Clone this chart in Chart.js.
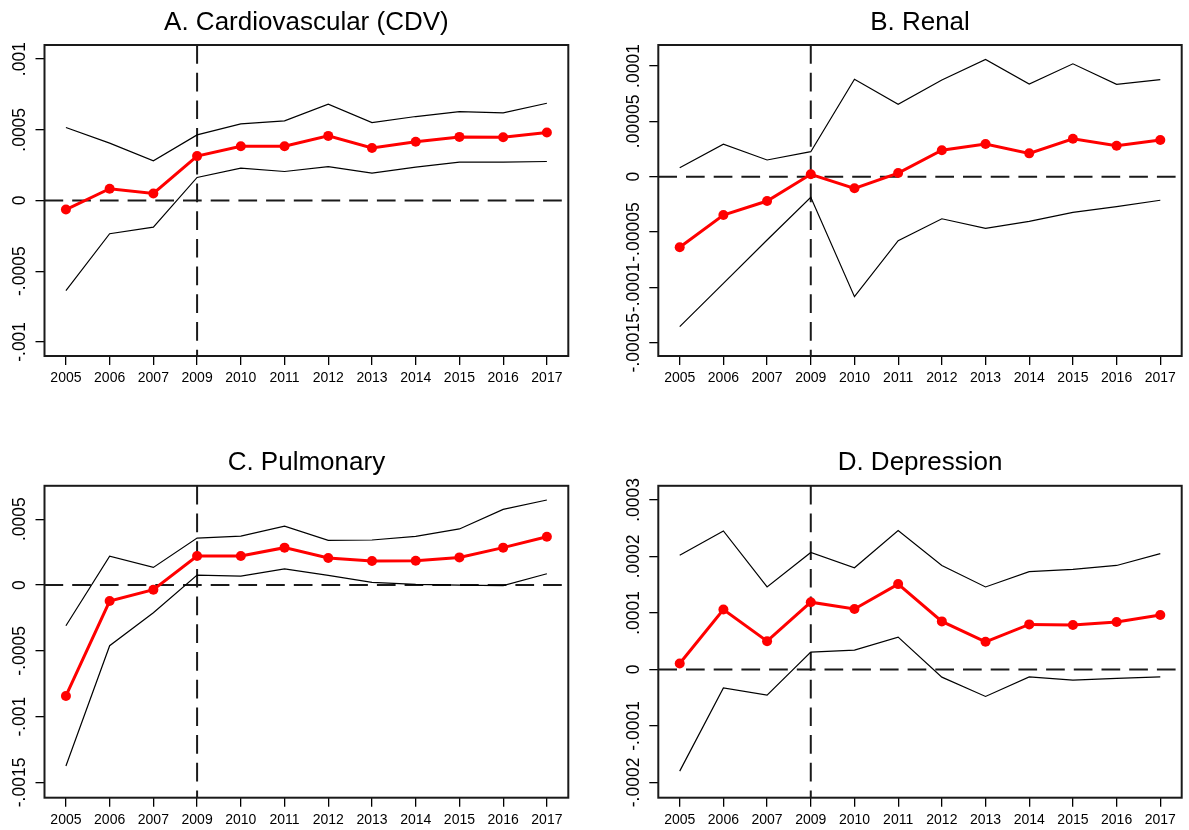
<!DOCTYPE html>
<html>
<head>
<meta charset="utf-8">
<script src="https://cdn.jsdelivr.net/npm/chart.js@4.4.0/dist/chart.umd.min.js"></script>
<style>
html,body{margin:0;padding:0;background:#fff;width:1189px;height:830px;overflow:hidden;}
canvas{position:absolute;}
</style>
</head>
<body>
<canvas id="cA" width="594" height="415" style="left:0px;top:0px"></canvas>
<canvas id="cB" width="595" height="415" style="left:594px;top:0px"></canvas>
<canvas id="cC" width="594" height="415" style="left:0px;top:415px"></canvas>
<canvas id="cD" width="595" height="415" style="left:594px;top:415px"></canvas>
<script>
// ---------- data ----------
const years = ['2005','2006','2007','2009','2010','2011','2012','2013','2014','2015','2016','2017'];
const policyYear = '2009';

const titleA = 'A. Cardiovascular (CDV)';
const estA = [-0.000064, 0.000083, 0.000050, 0.000314, 0.000384, 0.000384, 0.000457, 0.000372, 0.000415, 0.000450, 0.000448, 0.000481];
const hiA  = [0.000516, 0.000406, 0.000281, 0.000464, 0.000542, 0.000563, 0.000681, 0.000551, 0.000594, 0.000629, 0.000620, 0.000688];
const loA  = [-0.000638, -0.000235, -0.000188, 0.000163, 0.000229, 0.000205, 0.000240, 0.000194, 0.000236, 0.000271, 0.000271, 0.000276];
const rangeA = [-0.0011, 0.0011];
const ticksA = [0.001, 0.0005, 0, -0.0005, -0.001];
const tickLabelsA = ['.001', '.0005', '0', '-.0005', '-.001'];

const titleB = 'B. Renal';
const estB = [-0.0000638, -0.0000346, -0.0000220, 0.0000022, -0.0000105, 0.0000033, 0.0000239, 0.0000295, 0.0000211, 0.0000343, 0.0000280, 0.0000332];
const hiB  = [0.0000081, 0.0000293, 0.0000151, 0.0000226, 0.0000880, 0.0000654, 0.0000874, 0.0001060, 0.0000838, 0.0001020, 0.0000835, 0.0000877];
const loB  = [-0.0001355, -0.0000964, -0.0000572, -0.0000186, -0.0001084, -0.0000578, -0.0000380, -0.0000466, -0.0000403, -0.0000322, -0.0000271, -0.0000213];
const rangeB = [-0.000162, 0.000119];
const ticksB = [0.0001, 0.00005, 0, -0.00005, -0.0001, -0.00015];
const tickLabelsB = ['.0001', '.00005', '0', '-.00005', '-.0001', '-.00015'];

const titleC = 'C. Pulmonary';
const estC = [-0.000843, -0.000122, -0.0000355, 0.000220, 0.000220, 0.000284, 0.000205, 0.000182, 0.000185, 0.000210, 0.000284, 0.000367];
const hiC  = [-0.000309, 0.000220, 0.000134, 0.000357, 0.000372, 0.000448, 0.000340, 0.000342, 0.000370, 0.000426, 0.000575, 0.000646];
const loC  = [-0.001375, -0.000461, -0.000210, 0.000076, 0.000068, 0.000122, 0.0000735, 0.0000203, 0.000005, 0.000000, -0.000005, 0.000086];
const rangeC = [-0.001616, 0.000754];
const ticksC = [0.0005, 0, -0.0005, -0.001, -0.0015];
const tickLabelsC = ['.0005', '0', '-.0005', '-.001', '-.0015'];

const titleD = 'D. Depression';
const estD = [0.0000106, 0.000106, 0.0000501, 0.000119, 0.000107, 0.000151, 0.000085, 0.0000489, 0.0000797, 0.0000785, 0.0000838, 0.0000962];
const hiD  = [0.000202, 0.000245, 0.000146, 0.000207, 0.000180, 0.000246, 0.000184, 0.000146, 0.000173, 0.000177, 0.000184, 0.000205];
const loD  = [-0.000180, -0.0000326, -0.0000455, 0.0000307, 0.0000342, 0.0000572, -0.0000136, -0.0000478, -0.0000131, -0.0000190, -0.0000159, -0.0000131];
const rangeD = [-0.000227, 0.000325];
const ticksD = [0.0003, 0.0002, 0.0001, 0, -0.0001, -0.0002];
const tickLabelsD = ['.0003', '.0002', '.0001', '0', '-.0001', '-.0002'];

// ---------- rendering ----------
const FONT = '"Liberation Sans", Arial, Helvetica, sans-serif';
const X_MIN = -0.49, X_MAX = 11.49;

const framePlugin = {
  id: 'frame',
  afterDraw(chart, args, opts) {
    const {ctx, chartArea: a} = chart;
    const ys = chart.scales.y;
    ctx.save();
    ctx.strokeStyle = '#1a1a1a';
    ctx.lineWidth = 2;
    ctx.strokeRect(a.left, a.top, a.right - a.left, a.bottom - a.top);
    ctx.fillStyle = '#000';
    ctx.font = '17.5px ' + FONT;
    ctx.textAlign = 'center';
    ctx.textBaseline = 'alphabetic';
    const bx = a.left - opts.gap;
    ys.ticks.forEach((t, i) => {
      const py = ys.getPixelForValue(t.value);
      ctx.save();
      ctx.translate(bx, py);
      ctx.rotate(-Math.PI / 2);
      ctx.fillText(opts.labels[i], 0, 0);
      ctx.restore();
    });
    ctx.restore();
  }
};

function pts(arr) { return arr.map((v, i) => ({x: i, y: v})); }

function makePanel(id, title, est, hi, lo, range, yTicks, yLabels, g) {
  const vIdx = years.indexOf(policyYear);
  const dash = {borderColor: '#1a1a1a', borderWidth: 2, borderDash: [18.7, 9], pointRadius: 0, fill: false, tension: 0};
  new Chart(document.getElementById(id), {
    type: 'line',
    data: {
      datasets: [
        {data: pts(est), borderColor: '#ff0000', backgroundColor: '#ff0000', borderWidth: 3,
         pointRadius: 5, pointHoverRadius: 5, pointBorderWidth: 0, pointBackgroundColor: '#ff0000', tension: 0, fill: false},
        {data: pts(hi), borderColor: '#000', borderWidth: 1.2, pointRadius: 0, tension: 0, fill: false},
        {data: pts(lo), borderColor: '#000', borderWidth: 1.2, pointRadius: 0, tension: 0, fill: false},
        Object.assign({data: [{x: X_MIN, y: 0}, {x: X_MAX, y: 0}]}, dash),
        Object.assign({data: [{x: vIdx, y: range[1]}, {x: vIdx, y: range[0]}]}, dash)
      ]
    },
    options: {
      responsive: false,
      animation: false,
      events: [],
      layout: {padding: {left: 0, right: g.padRight, top: 0, bottom: g.padBottom}},
      plugins: {
        legend: {display: false},
        tooltip: {enabled: false},
        title: {display: true, text: title, color: '#000', fullSize: false,
                font: {family: FONT, size: 26, weight: 'normal', lineHeight: 1.2},
                padding: {top: g.titleTop, bottom: g.titleBottom}},
        frame: {labels: yLabels, gap: 19.5}
      },
      scales: {
        x: {
          type: 'linear', min: X_MIN, max: X_MAX,
          afterBuildTicks: s => { s.ticks = years.map((_, i) => ({value: i})); },
          afterFit: s => { s.height = 30; },
          grid: {drawOnChartArea: false, drawTicks: true, tickLength: 9, color: '#000', lineWidth: 1.3},
          border: {display: false},
          ticks: {autoSkip: false, maxRotation: 0, minRotation: 0, padding: 5, color: '#000',
                  font: {family: FONT, size: 14}, callback: v => years[v]}
        },
        y: {
          type: 'linear', min: range[0], max: range[1],
          afterBuildTicks: s => { s.ticks = yTicks.map(v => ({value: v})); },
          afterFit: s => { s.width = g.yWidth; },
          grid: {drawOnChartArea: false, drawTicks: true, tickLength: 9, color: '#000', lineWidth: 1.3},
          border: {display: false},
          ticks: {display: false}
        }
      }
    },
    plugins: [framePlugin]
  });
}

makePanel('cA', titleA, estA, hiA, loA, rangeA, ticksA, tickLabelsA,
  {yWidth: 44.5, padRight: 25.7, padBottom: 29, titleTop: 7.4, titleBottom: 6.4});
makePanel('cB', titleB, estB, hiB, loB, rangeB, ticksB, tickLabelsB,
  {yWidth: 64.3, padRight: 7.3, padBottom: 29, titleTop: 7.4, titleBottom: 6.4});
makePanel('cC', titleC, estC, hiC, loC, rangeC, ticksC, tickLabelsC,
  {yWidth: 44.5, padRight: 25.7, padBottom: 2.3, titleTop: 31.9, titleBottom: 7.7});
makePanel('cD', titleD, estD, hiD, loD, rangeD, ticksD, tickLabelsD,
  {yWidth: 64.3, padRight: 7.3, padBottom: 2.3, titleTop: 31.9, titleBottom: 7.7});
</script>
</body>
</html>
